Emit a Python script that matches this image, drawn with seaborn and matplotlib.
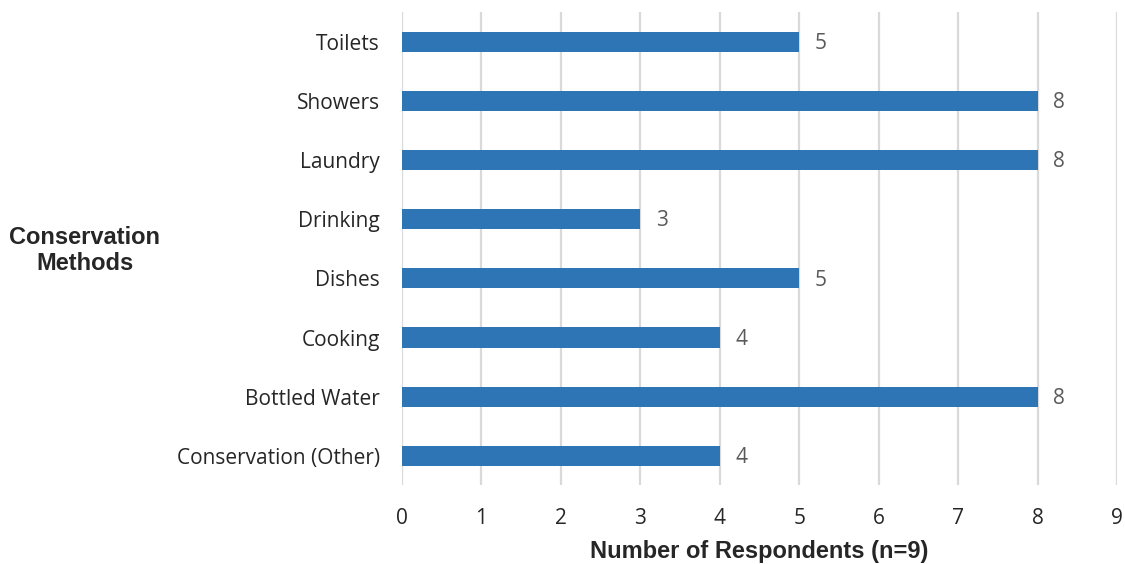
import matplotlib
matplotlib.use("Agg")
import matplotlib.pyplot as plt
import seaborn as sns
import pandas as pd

categories = ["Toilets", "Showers", "Laundry", "Drinking", "Dishes", "Cooking",
              "Bottled Water", "Conservation (Other)"]
values = [5, 8, 8, 3, 5, 4, 8, 4]
x_ticks = list(range(0, 10))

sns.set_theme(style="white")
plt.rcParams['font.family'] = ['Open Sans', 'DejaVu Sans']

df = pd.DataFrame({"Method": categories, "Respondents": values})

fig = plt.figure(figsize=(11.25, 5.64), dpi=100)
ax = fig.add_axes([0.3573, 0.1392, 0.6356, 0.8395])

sns.barplot(data=df, y="Method", x="Respondents", orient="h", color="#2E75B6",
            saturation=1, width=0.34, ax=ax, zorder=3, linewidth=0)

ax.set_xlim(0, 9)
ax.set_ylim(7.5, -0.5)
ax.set_xticks(x_ticks)
ax.grid(axis="x", color="#D9D9D9", linewidth=1.6, zorder=0)
ax.set_axisbelow(True)
for s in ax.spines.values():
    s.set_visible(False)

ax.tick_params(axis="both", length=0, labelsize=15, colors="#262626")
ax.tick_params(axis="y", pad=16)
ax.tick_params(axis="x", pad=16)

for i, v in enumerate(values):
    ax.text(v + 0.2, i + 0.03, str(v), va="center", ha="left", fontsize=15, color="#595959")

ax.set_xlabel("Number of Respondents (n=9)", family=["Liberation Sans", "DejaVu Sans"],
              fontweight="bold", fontsize=17, color="#262626", labelpad=8)
ax.set_ylabel("")
fig.text(0.0755, 0.556, "Conservation\nMethods", ha="center", va="center",
         family=["Liberation Sans", "DejaVu Sans"], fontweight="bold", fontsize=17,
         color="#262626", linespacing=1.15)

fig.savefig("out.png", dpi=100)
